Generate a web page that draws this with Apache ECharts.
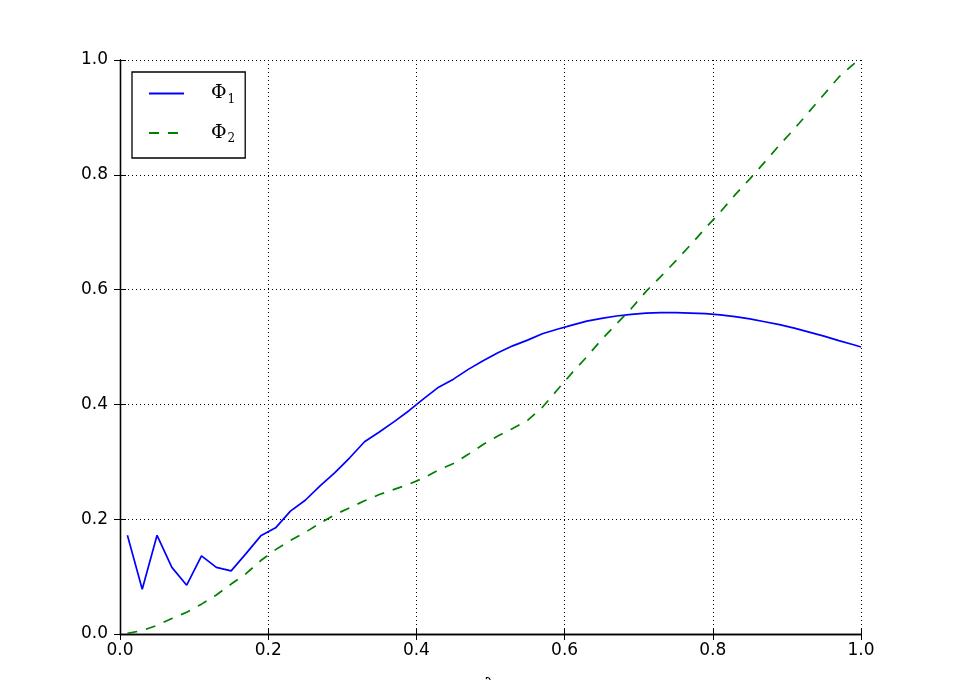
<!DOCTYPE html>
<html>
<head>
<meta charset="utf-8">
<script src="https://cdn.jsdelivr.net/npm/echarts@6/dist/echarts.min.js"></script>
<style>html,body{margin:0;padding:0;background:#fff}#c{width:957px;height:680px}</style>
</head>
<body>
<div id="c"></div>
<script>
const xs = [0.01,0.03,0.05,0.07,0.09,0.11,0.13,0.15,0.17,0.19,0.21,0.23,0.25,0.27,0.29,0.31,0.33,0.35,0.37,0.39,0.41,0.43,0.45,0.47,0.49,0.51,0.53,0.55,0.57,0.59,0.61,0.63,0.65,0.67,0.69,0.71,0.73,0.75,0.77,0.79,0.81,0.83,0.85,0.87,0.89,0.91,0.93,0.95,0.97,0.99,1.00];
const phi1 = [0.172,0.078,0.172,0.116,0.085,0.136,0.116,0.110,0.140,0.171,0.185,0.214,0.233,0.258,0.281,0.307,0.335,0.352,0.370,0.389,0.410,0.430,0.444,0.461,0.476,0.490,0.502,0.512,0.523,0.531,0.538,0.545,0.550,0.554,0.557,0.559,0.560,0.560,0.559,0.558,0.556,0.553,0.549,0.544,0.539,0.533,0.526,0.519,0.511,0.504,0.500];
const phi2 = [0.001,0.006,0.015,0.027,0.038,0.052,0.068,0.087,0.105,0.128,0.147,0.163,0.177,0.193,0.208,0.220,0.232,0.243,0.252,0.261,0.272,0.286,0.297,0.313,0.330,0.345,0.358,0.372,0.395,0.425,0.455,0.483,0.513,0.540,0.567,0.597,0.623,0.650,0.678,0.707,0.735,0.765,0.793,0.822,0.852,0.880,0.910,0.940,0.970,0.993,1.000];
const xTicks = ['0.0','0.2','0.4','0.6','0.8','1.0'];
const yTicks = ['0.0','0.2','0.4','0.6','0.8','1.0'];

const chart = echarts.init(document.getElementById('c'), null, {renderer:'canvas'});
const tickFmt = v => v.toFixed(1);
const frame = {show:true, lineStyle:{color:'#000', width:1.3}};
const gridLine = {show:true, lineStyle:{color:'#000', type:[1,3], width:1}};
const ticksIn = {show:true, inside:true, length:6, lineStyle:{color:'#000', width:1}};
const lbl = {fontFamily:'DejaVu Sans', fontSize:17, color:'#000'};
chart.setOption({
  animation:false,
  backgroundColor:'#fff',
  grid:{left:120, right:96, top:60, bottom:46, containLabel:false, outerBoundsMode:'none'},
  legend:{
    orient:'vertical', left:132, top:72,
    padding:[12,10,13,16], itemGap:18, itemWidth:35, itemHeight:14,
    borderColor:'#000', borderWidth:1.3, backgroundColor:'#fff',
    itemStyle:{opacity:0},
    data:[{name:'Φ1'},{name:'Φ2'}],
    formatter: n => '{p|Φ}{s|' + n.slice(1) + '}',
    textStyle:{padding:[0,0,0,22], rich:{
      p:{fontFamily:'DejaVu Serif', fontSize:19, color:'#000'},
      s:{fontFamily:'DejaVu Serif', fontSize:12, color:'#000', verticalAlign:'bottom', padding:[12,0,0,1]}
    }}
  },
  xAxis:[
    {type:'value', min:0, max:1, interval:0.2, position:'bottom',
     name:'λ', nameLocation:'middle', nameGap:44, nameTextStyle:{fontFamily:'DejaVu Serif', fontSize:20, color:'#000', verticalAlign:'top'},
     axisLine:frame, axisTick:ticksIn, splitLine:gridLine,
     axisLabel:Object.assign({margin:8, formatter:tickFmt}, lbl)},
    {type:'value', min:0, max:1, interval:0.2, position:'top',
     axisLine:frame, axisTick:ticksIn, splitLine:{show:false}, axisLabel:{show:false}}
  ],
  yAxis:[
    {type:'value', min:0, max:1, interval:0.2, position:'left',
     axisLine:frame, axisTick:ticksIn, splitLine:gridLine,
     axisLabel:Object.assign({margin:12, formatter:tickFmt}, lbl)},
    {type:'value', min:0, max:1, interval:0.2, position:'right',
     axisLine:frame, axisTick:ticksIn, splitLine:{show:false}, axisLabel:{show:false}}
  ],
  series:[
    {name:'Φ1', type:'line', showSymbol:false, symbol:'none',
     data: xs.map((x,i)=>[x,phi1[i]]),
     lineStyle:{color:'#0000ff', width:1.7}, itemStyle:{color:'#0000ff'}},
    {name:'Φ2', type:'line', showSymbol:false, symbol:'none',
     data: xs.map((x,i)=>[x,phi2[i]]),
     lineStyle:{color:'#008000', width:1.7, type:[10,9]}, itemStyle:{color:'#008000'}}
  ]
});
</script>
</body>
</html>
